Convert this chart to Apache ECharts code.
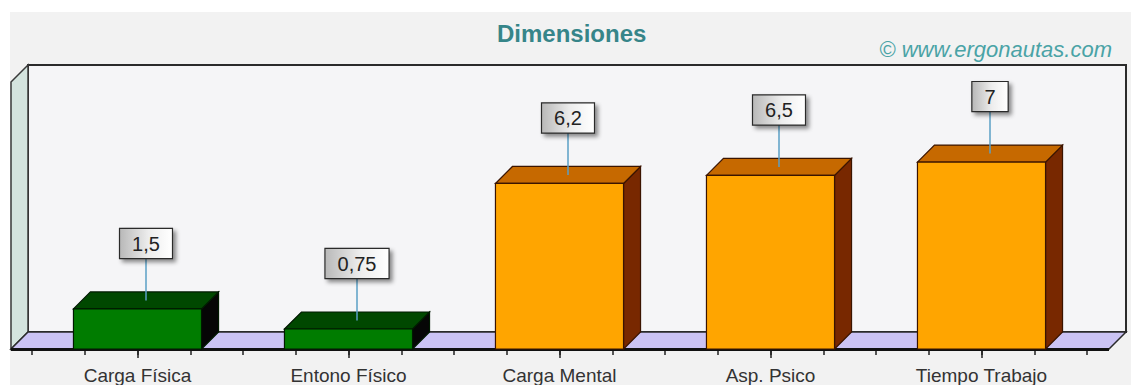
<!DOCTYPE html>
<html>
<head>
<meta charset="utf-8">
<script src="https://cdn.jsdelivr.net/npm/echarts@6/dist/echarts.min.js"></script>
<style>
  html, body { margin: 0; padding: 0; background: #ffffff; }
  #chart { width: 1131px; height: 385px; }
</style>
</head>
<body>
<div id="chart"></div>
<script>
// Chart data
const categories = ['Carga Física', 'Entono Físico', 'Carga Mental', 'Asp. Psico', 'Tiempo Trabajo'];
const values = [1.5, 0.75, 6.2, 6.5, 7];
const valueMin = 0;
const valueMax = 10;
const titleText = 'Dimensiones';
const creditText = '© www.ergonautas.com';

// 3D depth offset used for bars, walls and floor
const DX = 17, DY = -17;
const FONT = '"Liberation Sans", Arial, sans-serif';

const palettes = {
  low:  { front: '#007c00', top: '#004800', side: '#060606', edge: '#001a00' },
  high: { front: '#ffa500', top: '#c66900', side: '#782800', edge: '#3a1400' }
};
function paletteFor(v) { return v < 3 ? palettes.low : palettes.high; }
function fmt(v) { return String(v).replace('.', ','); }

const boxFill = new echarts.graphic.LinearGradient(0, 0, 1, 0, [
  { offset: 0, color: '#b9b9b9' },
  { offset: 0.55, color: '#ededed' },
  { offset: 1, color: '#ffffff' }
]);

// Walls and floor around the plotting area
function renderFrame(params, api) {
  const cs = params.coordSys;
  const padL = 21, padR = 22;
  const L = cs.x - padL, R = cs.x + cs.width + padR;
  const T = cs.y, B = cs.y + cs.height;
  const line = '#2b2b2b';
  return {
    type: 'group',
    children: [
      // back wall
      { type: 'rect', shape: { x: L + DX, y: T + DY, width: R - L, height: B - T },
        style: { fill: '#f5f5f7', stroke: line, lineWidth: 2 } },
      // left wall
      { type: 'polygon', shape: { points: [[L, T], [L + DX, T + DY], [L + DX, B + DY], [L, B]] },
        style: { fill: '#d4e4de', stroke: '#3a3a3a', lineWidth: 1.5 } },
      // floor
      { type: 'polygon', shape: { points: [[L, B], [L + DX, B + DY], [R + DX, B + DY], [R, B]] },
        style: { fill: '#cbc3f4', stroke: '#2b2b2b', lineWidth: 1.5 } },
      // front edge of the floor
      { type: 'line', shape: { x1: L, y1: B + 0.5, x2: R, y2: B + 0.5 },
        style: { stroke: '#111111', lineWidth: 3 } }
    ]
  };
}

// One 3D bar with its value callout
function renderBar(params, api) {
  const i = api.value(0), v = api.value(1);
  const base = api.coord([i, 0]);
  const top = api.coord([i, v]);
  const bw = api.size([1, 0])[0] * 0.607;
  const x0 = base[0] - bw / 2, x1 = base[0] + bw / 2;
  const y0 = base[1], y1 = top[1];
  const p = paletteFor(v);
  const lw = 1.2;
  const cx = base[0] + DX / 2;
  const cy = y1 + DY / 2;
  const boxBottom = y1 + DY - 34;
  return {
    type: 'group',
    children: [
      { type: 'polygon', shape: { points: [[x1, y0], [x1 + DX, y0 + DY], [x1 + DX, y1 + DY], [x1, y1]] },
        style: { fill: p.side, stroke: p.edge, lineWidth: lw } },
      { type: 'polygon', shape: { points: [[x0, y1], [x0 + DX, y1 + DY], [x1 + DX, y1 + DY], [x1, y1]] },
        style: { fill: p.top, stroke: p.edge, lineWidth: lw } },
      { type: 'rect', shape: { x: x0, y: y1, width: bw, height: y0 - y1 },
        style: { fill: p.front, stroke: p.edge, lineWidth: lw } },
      { type: 'line', shape: { x1: cx, y1: cy, x2: cx, y2: boxBottom },
        style: { stroke: '#5a9fc6', lineWidth: 1.5 } },
      { type: 'text', x: cx, y: boxBottom,
        style: {
          text: fmt(v), font: '20px ' + FONT, fill: '#222222',
          align: 'center', verticalAlign: 'bottom',
          backgroundColor: boxFill, borderColor: '#2a2a2a', borderWidth: 1.2,
          padding: [5, 12, 4, 12],
          shadowColor: 'rgba(0,0,0,0.45)', shadowBlur: 4, shadowOffsetX: 3, shadowOffsetY: 3
        } }
    ]
  };
}

const chart = echarts.init(document.getElementById('chart'), null, { renderer: 'svg' });

chart.setOption({
  animation: false,
  backgroundColor: '#ffffff',
  graphic: [
    { type: 'rect', left: 10, top: 12, z: -10,
      shape: { width: 1121, height: 373 }, style: { fill: '#f2f2f2' } }
  ],
  title: [
    { text: titleText, left: 492, top: 16,
      textStyle: { color: '#368589', fontSize: 24, fontWeight: 'bold', fontFamily: FONT } },
    { text: creditText, right: 14, top: 33,
      textStyle: { color: '#4aa3a6', fontSize: 22, fontStyle: 'italic', fontWeight: 'normal', fontFamily: FONT } }
  ],
  grid: { left: 32, right: 44, top: 82, bottom: 35 },
  xAxis: [
    {
      type: 'category', data: categories, position: 'bottom',
      axisLine: { show: false },
      axisTick: { show: true, alignWithLabel: true, length: 9, lineStyle: { color: '#222', width: 1.5 } },
      axisLabel: { interval: 0, margin: 17, color: '#333333', fontSize: 19, fontFamily: FONT },
      splitLine: { show: false }
    },
    {
      type: 'value', min: 0, max: categories.length * 4, interval: 1, position: 'bottom',
      axisLine: { show: false },
      axisTick: { show: true, length: 6, lineStyle: { color: '#222', width: 1.5 } },
      axisLabel: { show: false },
      splitLine: { show: false }
    }
  ],
  yAxis: {
    type: 'value', min: valueMin, max: valueMax, show: false,
    splitLine: { show: false }
  },
  series: [
    { type: 'custom', name: 'frame', renderItem: renderFrame, data: [[0, 0]],
      clip: false, silent: true, z: 1 },
    { type: 'custom', name: 'Dimensiones', renderItem: renderBar,
      data: values.map((v, i) => [i, v]), clip: false, z: 2 }
  ]
});
</script>
</body>
</html>
